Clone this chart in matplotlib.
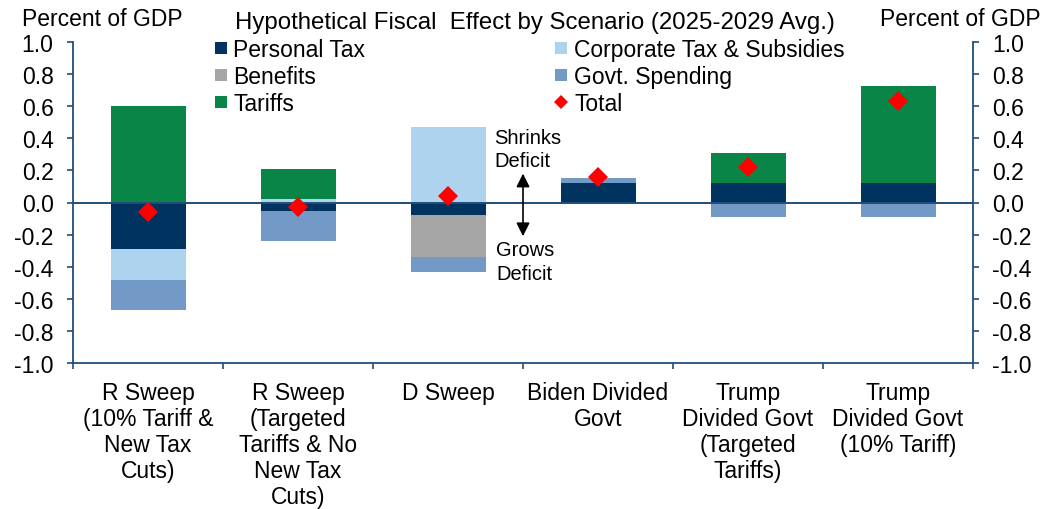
import matplotlib
matplotlib.use("Agg")
import matplotlib.pyplot as plt
from matplotlib.lines import Line2D
import numpy as np

plt.rcParams['font.family'] = ['Liberation Sans', 'DejaVu Sans']

categories = [
    "R Sweep\n(10% Tariff &\nNew Tax\nCuts)",
    "R Sweep\n(Targeted\nTariffs & No\nNew Tax\nCuts)",
    "D Sweep",
    "Biden Divided\nGovt",
    "Trump\nDivided Govt\n(Targeted\nTariffs)",
    "Trump\nDivided Govt\n(10% Tariff)",
]
personal_tax = [-0.29, -0.05, -0.075, 0.12, 0.12, 0.12]
corporate_tax = [-0.19, 0.02, 0.47, 0.0, 0.0, 0.0]
benefits = [0.0, 0.0, -0.265, 0.0, 0.0, 0.0]
govt_spending = [-0.19, -0.19, -0.09, 0.035, -0.09, -0.09]
tariffs = [0.60, 0.19, 0.0, 0.0, 0.19, 0.605]
total = [-0.06, -0.03, 0.04, 0.16, 0.22, 0.635]
yticks = [-1.0, -0.8, -0.6, -0.4, -0.2, 0.0, 0.2, 0.4, 0.6, 0.8, 1.0]

C_PERS, C_CORP, C_BEN, C_GOV, C_TAR, C_TOT = "#003360", "#ADD3EE", "#A5A5A5", "#739AC6", "#098647", "#FF0000"
series = [
    ("Personal Tax", personal_tax, C_PERS),
    ("Corporate Tax & Subsidies", corporate_tax, C_CORP),
    ("Benefits", benefits, C_BEN),
    ("Govt. Spending", govt_spending, C_GOV),
    ("Tariffs", tariffs, C_TAR),
]

AX_COLOR = "#1F4E79"
FS = 16.5

fig = plt.figure(figsize=(10.47, 5.10), dpi=100)
ax = fig.add_axes([73/1047, 1-364/510, 900/1047, (364-43)/510])

x = np.arange(len(categories))
pos_base = np.zeros(len(categories))
neg_base = np.zeros(len(categories))
for name, vals, col in series:
    v = np.array(vals, dtype=float)
    pos = np.where(v > 0, v, 0)
    neg = np.where(v < 0, v, 0)
    ax.bar(x, pos, 0.5, bottom=pos_base, color=col, linewidth=0, zorder=2)
    ax.bar(x, neg, 0.5, bottom=neg_base, color=col, linewidth=0, zorder=2)
    pos_base += pos
    neg_base += neg

ax.axhline(0, color=AX_COLOR, linewidth=1.4, zorder=3)
ax.plot(x, total, linestyle='None', marker='D', markersize=10.5,
        color=C_TOT, markeredgewidth=0, zorder=4)

ax.set_xlim(-0.5, 5.5)
ax.set_ylim(-1.0, 1.0)
ax.set_yticks(yticks)
ax.set_yticklabels([f"{v:.1f}" for v in yticks])
ax.set_xticks(x)
ax.set_xticklabels(categories, fontsize=FS, linespacing=1.17)
ax.set_xticks(np.arange(-0.5, 5.6, 1.0), minor=True)
ax.tick_params(axis='x', which='major', length=0, pad=13)
ax.tick_params(axis='x', which='minor', length=4, width=1.2, color=AX_COLOR, direction='out')
ax.tick_params(axis='y', which='major', left=True, right=True, labelleft=True,
               labelright=True, length=4, width=1.2, color=AX_COLOR,
               direction='out', labelsize=FS, pad=10)

for s in ['left', 'right', 'bottom']:
    ax.spines[s].set_color(AX_COLOR)
    ax.spines[s].set_linewidth(1.3)
ax.spines['top'].set_visible(False)

fig.text(22/1047, 1-19/510, "Percent of GDP", fontsize=FS, ha='left', va='center')
fig.text(1041/1047, 1-19/510, "Percent of GDP", fontsize=FS, ha='right', va='center')
fig.text(535/1047, 1-23/510, "Hypothetical Fiscal  Effect by Scenario (2025-2029 Avg.)",
         fontsize=17.3, ha='center', va='center')

# annotation arrow
ax.annotate('', xy=(2.5, 0.18), xytext=(2.5, -0.21),
            arrowprops=dict(arrowstyle='<|-|>', color='black', lw=1.2,
                            mutation_scale=20, shrinkA=0, shrinkB=0))
ax.text(2.31, 0.465, "Shrinks\nDeficit", fontsize=14.5, ha='left', va='top', linespacing=1.3)
ax.text(2.32, -0.235, "Grows\nDeficit", fontsize=14.5, ha='left', va='top', linespacing=1.3)

def sq(c):
    return Line2D([], [], marker='s', linestyle='None', color=c, markersize=9, markeredgewidth=0)

handles = [sq(C_PERS), sq(C_BEN), sq(C_TAR), sq(C_CORP), sq(C_GOV),
           Line2D([], [], marker='D', linestyle='None', color=C_TOT, markersize=7, markeredgewidth=0)]
labels = ["Personal Tax", "Benefits", "Tariffs",
          "Corporate Tax & Subsidies", "Govt. Spending", "Total"]
leg = fig.legend(handles, labels, ncol=2, loc='upper left',
                 bbox_to_anchor=(214/1047, 1-39/510), bbox_transform=fig.transFigure,
                 frameon=False, fontsize=FS, borderpad=0, borderaxespad=0, handlelength=0.6,
                 handletextpad=0.25, columnspacing=8.25, labelspacing=0.17)

fig.savefig("out.png", dpi=100)
